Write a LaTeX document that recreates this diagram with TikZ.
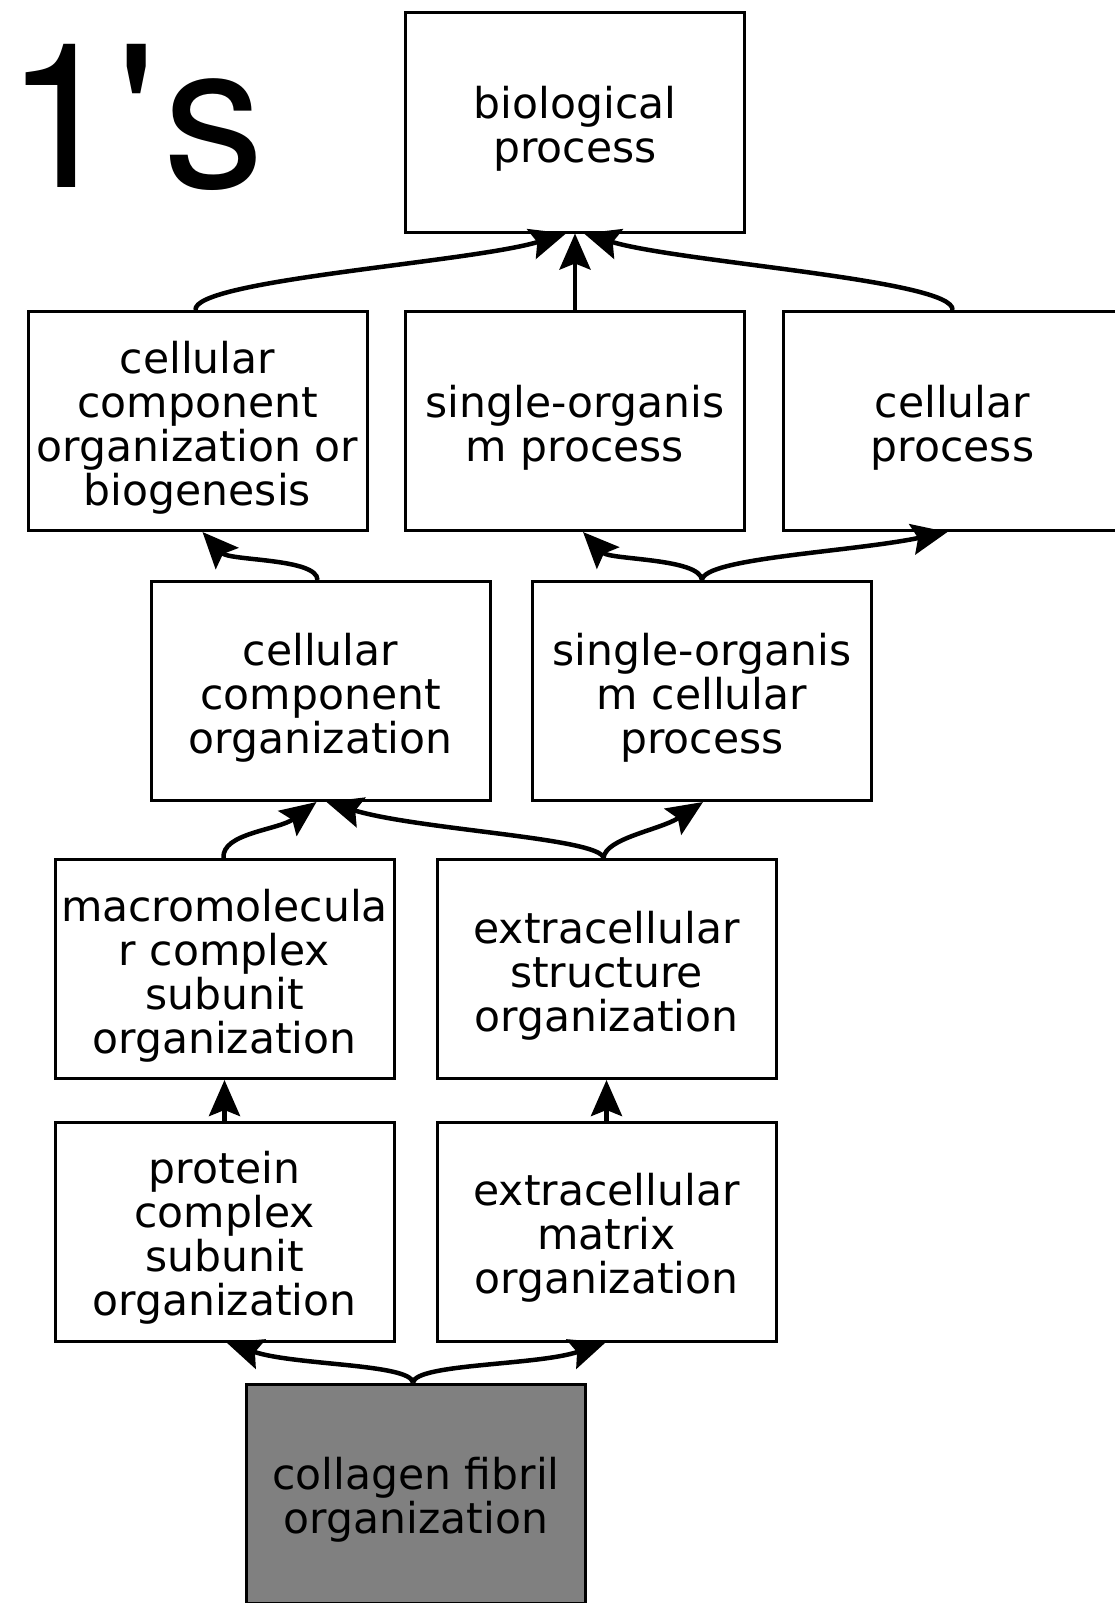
\documentclass[tikz,border=0pt]{standalone}
\usepackage{fontspec}
\setmainfont{DejaVu Sans}
\newfontfamily\onesfont{TeX Gyre Heros}
\usetikzlibrary{arrows.meta,calc}
\newcommand\gs{\rule[-11pt]{0pt}{44pt}}
\newcommand\gt{\rule[-11pt]{0pt}{58pt}}
\begin{document}
\begin{tikzpicture}[x=1pt,y=-1pt,
  box/.style={draw=black, line width=3pt, fill=white, minimum width=339pt, minimum height=219pt, inner sep=0pt, align=center, font=\fontsize{42.5}{44}\selectfont},
  hit/.style={box, fill={rgb,255:red,128;green,128;blue,128}},
  edge/.style={line width=4.5pt, -{Stealth[length=36pt,width=31pt,inset=6pt]}}]
\useasboundingbox (0,0) rectangle (1115,1603);
\node[anchor=base west, inner sep=0pt] (title) at (5,187) {\onesfont\fontsize{202}{202}\selectfont 1{\char"27}\kern8pt s};
\node[box] (bio) at (575,122.5) {\gt biological\\\gs process};
\node[box] (ccob) at (197.5,421) {\gt cellular\\\gs component\\\gs organization or\\\gs biogenesis};
\node[box] (sop) at (575,421) {\gt single-organis\\\gs m process};
\node[box] (cp) at (952.5,421) {\gt cellular\\\gs process};
\node[box] (cco) at (320.5,691) {\gt cellular\\\gs component\\\gs organization};
\node[box] (somc) at (702,691) {\gt single-organis\\\gs m cellular\\\gs process};
\node[box] (mcso) at (224.5,969) {\gt macromolecula\\\gs r complex\\\gs subunit\\\gs organization};
\node[box] (eso) at (606.5,969) {\gt extracellular\\\gs structure\\\gs organization};
\node[box] (pcso) at (224.5,1231.5) {\gt protein\\\gs complex\\\gs subunit\\\gs organization};
\node[box] (emo) at (606.5,1231.5) {\gt extracellular\\\gs matrix\\\gs organization};
\node[hit] (cfo) at (416,1493.5) {\gt collagen fibril\\\gs organization};
% edges
\draw[edge] ([xshift=-2pt]ccob.north) .. controls +(-3,-30) and +(-96,29) .. ([xshift=-9pt]bio.south);
\draw[edge] (sop.north) -- (bio.south);
\draw[edge] (cp.north) .. controls +(3,-30) and +(96,29) .. ([xshift=9pt]bio.south);
\draw[edge] ([xshift=-3pt]cco.north) .. controls +(0,-22) and +(27,29) .. ([xshift=5pt]ccob.south);
\draw[edge] (somc.north) .. controls +(-2,-22) and +(27,28) .. ([xshift=8pt]sop.south);
\draw[edge] (somc.north) .. controls +(2,-22) and +(-97,20) .. ([xshift=-5pt]cp.south);
\draw[edge] ([xshift=-1pt]mcso.north) .. controls +(-2,-25) and +(-38,28) .. ([xshift=-4pt]cco.south);
\draw[edge] ([xshift=-3pt]eso.north) .. controls +(-3,-20) and +(93,28) .. ([xshift=6pt]cco.south);
\draw[edge] ([xshift=-3pt]eso.north) .. controls +(2,-20) and +(-43,28) .. ([xshift=1pt]somc.south);
\draw[edge] (pcso.north) -- (mcso.south);
\draw[edge] (emo.north) -- (eso.south);
\draw[edge] ([xshift=-3pt]cfo.north) .. controls +(-3,-19) and +(68,23) .. ([xshift=2pt]pcso.south);
\draw[edge] ([xshift=-3pt]cfo.north) .. controls +(3,-19) and +(-68,23) .. ([xshift=-1pt]emo.south);
\end{tikzpicture}
\end{document}
